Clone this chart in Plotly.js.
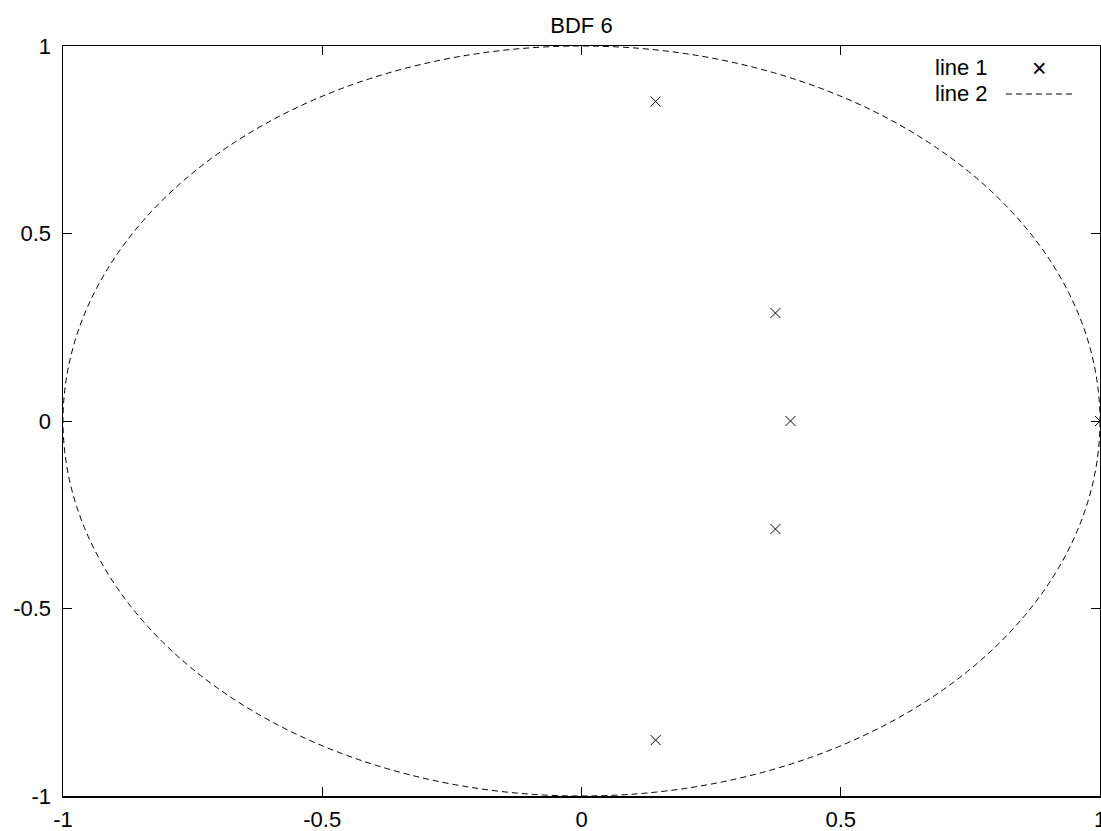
<!DOCTYPE html>
<html>
<head>
<meta charset="utf-8">
<script src="https://cdn.plot.ly/plotly-3.0.1.min.js"></script>
<style>html,body{margin:0;padding:0;background:#fff;}#chart{width:1101px;height:831px;}</style>
</head>
<body>
<div id="chart"></div>
<script>
// Roots of the BDF 6 characteristic polynomial
const rootsRe = [0.143, 0.374, 0.403, 0.374, 0.143, 1.0];
const rootsIm = [0.852, 0.288, 0.0, -0.288, -0.851, 0.0];
// Unit circle bounds (drawn as a circle shape on the data axes)
const circleX = [-1, 1];
const circleY = [-1, 1];
const xTickVals = [-1, -0.5, 0, 0.5, 1];
const xTickText = ["-1", "-0.5", "0", "0.5", "1"];
const yTickVals = [-1, -0.5, 0, 0.5, 1];
const yTickText = ["-1", "-0.5", "0", "0.5", "1"];
const seriesNames = ["line 1", "line 2"];
const titleText = "BDF 6";

const font = {family: "Liberation Sans, Arial, sans-serif", size: 22, color: "#000"};
const DASH = "6px,4px";

const traces = [
  {
    x: rootsRe, y: rootsIm, type: "scatter", mode: "markers", name: seriesNames[0],
    marker: {symbol: "x-thin-open", size: 10, color: "#000", line: {width: 1, color: "#000"}},
    cliponaxis: false, showlegend: false
  }
];

const axisCommon = {
  showgrid: false, zeroline: false, showline: true, linecolor: "#000", linewidth: 1.5,
  mirror: "ticks", ticks: "inside", ticklen: 9, tickwidth: 1, tickcolor: "#000",
  tickfont: font, ticklabeloverflow: "allow"
};

// gnuplot-style key: text on the left, sample on the right
const keyTextX = 0.894, keySampleX0 = 0.9093, keySampleX1 = 0.973, keyMarkX = 0.9421;
const keyY = [0.9707, 0.936];

const layout = {
  width: 1101, height: 831,
  margin: {l: 63, r: 1, t: 46, b: 35},
  paper_bgcolor: "#fff", plot_bgcolor: "#fff",
  font: font,
  title: {text: titleText, font: font, x: 0.5, xref: "paper", y: 1, yref: "paper", yanchor: "bottom", pad: {b: 13}},
  xaxis: Object.assign({}, axisCommon, {range: [-1, 1], tickvals: xTickVals, ticktext: xTickText, ticklabelstandoff: 3}),
  yaxis: Object.assign({}, axisCommon, {range: [-1, 1], tickvals: yTickVals, ticktext: yTickText, ticklabelstandoff: 6}),
  showlegend: false,
  annotations: [
    {text: seriesNames[0], xref: "paper", yref: "paper", x: keyTextX, y: keyY[0], xanchor: "right", yanchor: "middle", showarrow: false, font: font},
    {text: seriesNames[1], xref: "paper", yref: "paper", x: keyTextX, y: keyY[1], xanchor: "right", yanchor: "middle", showarrow: false, font: font},
    {text: "×", xref: "paper", yref: "paper", x: keyMarkX, y: keyY[0], xanchor: "center", yanchor: "middle", showarrow: false,
     font: {family: "Liberation Sans, Arial, sans-serif", size: 25, color: "#000"}}
  ],
  shapes: [
    {type: "circle", xref: "x", yref: "y",
     x0: circleX[0], y0: circleY[0], x1: circleX[1], y1: circleY[1],
     line: {color: "#000", width: 1, dash: DASH}},
    {type: "line", xref: "paper", yref: "paper", x0: keySampleX0, x1: keySampleX1, y0: keyY[1], y1: keyY[1],
     line: {color: "#000", width: 1, dash: DASH}}
  ]
};

Plotly.newPlot("chart", traces, layout, {staticPlot: true, displayModeBar: false});
</script>
</body>
</html>
